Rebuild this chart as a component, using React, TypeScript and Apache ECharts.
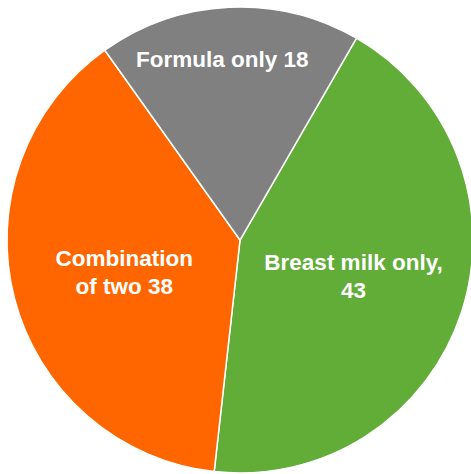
import React, { useEffect, useRef } from "react";
import * as echarts from "echarts";

// Feeding type shares
const categories = ["Breast milk only", "Combination of two", "Formula only"];
const values = [43, 38, 18];
const labelTexts = ["Breast milk only,\n43", "Combination\nof two 38", "Formula only 18"];
const colors = ["#62AC38", "#FF6600", "#808080"];

export default function App() {
  const ref = useRef<HTMLDivElement>(null);

  useEffect(() => {
    if (!ref.current) return;
    const chart = echarts.init(ref.current, null, { renderer: "svg" });
    const data = categories.map((name, i) => ({
      name,
      value: values[i],
      itemStyle: { color: colors[i] },
      label: {
        formatter: labelTexts[i],
        // the narrow grey slice carries its label out toward the rim
        offset: i === 2 ? [-12, -61] : i === 1 ? [0, 2] : [0, -1],
      },
    }));
    chart.setOption({
      animation: false,
      backgroundColor: "#ffffff",
      series: [
        {
          type: "pie",
          center: [240, 240],
          radius: 233,
          startAngle: 60,
          clockwise: true,
          avoidLabelOverlap: false,
          itemStyle: { borderColor: "#ffffff", borderWidth: 1.5 },
          label: {
            show: true,
            position: "inside",
            color: "#ffffff",
            fontFamily: "Liberation Sans, Arial, sans-serif",
            fontWeight: "bold",
            fontSize: 22.5,
            lineHeight: 28,
            align: "center",
          },
          labelLine: { show: false },
          emphasis: { disabled: true },
          data,
        },
      ],
    });
    return () => chart.dispose();
  }, []);

  return (
    <div
      ref={ref}
      style={{ position: "fixed", left: 0, top: 0, width: 471, height: 474 }}
    />
  );
}
